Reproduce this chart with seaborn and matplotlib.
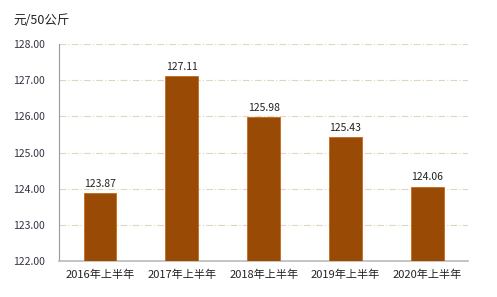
import matplotlib
matplotlib.use("Agg")
import matplotlib.pyplot as plt
import seaborn as sns
import pandas as pd

categories = ["2016年上半年", "2017年上半年", "2018年上半年", "2019年上半年", "2020年上半年"]
values = [123.87, 127.11, 125.98, 125.43, 124.06]
yticks = [122, 123, 124, 125, 126, 127, 128]

sns.set_style("white")
plt.rcParams['font.family'] = ['Noto Sans CJK SC', 'DejaVu Sans']

df = pd.DataFrame({"cat": categories, "val": values})
fig = plt.figure(figsize=(4.97, 2.97), dpi=100)
ax = fig.add_axes([0.119, 0.121, 0.823, 0.731])
sns.barplot(data=df, x="cat", y="val", color="#994a04", width=0.4, ax=ax,
            edgecolor="#c26a1a", linewidth=0.6, saturation=1, zorder=3)
ax.set_ylim(122, 128)
ax.set_yticks(yticks)
ax.set_yticklabels([f"{t:.2f}" for t in yticks], fontsize=7.5, color="#333344")
ax.tick_params(axis='x', labelsize=8, colors="#222222", length=0, pad=6)
ax.tick_params(axis='y', length=0, pad=10)
ax.set_xlabel("")
ax.set_ylabel("")
ax.grid(axis='y', color="#e0d6c0", linestyle=(0, (6, 2, 1, 2)), linewidth=0.8, zorder=0)
for s in ["top", "right"]:
    ax.spines[s].set_visible(False)
ax.spines["left"].set_color("#999999")
ax.spines["bottom"].set_color("#bbbbbb")
ax.spines["left"].set_linewidth(0.8)
ax.spines["bottom"].set_linewidth(1.2)
for i, v in enumerate(values):
    ax.text(i, v + 0.12, f"{v:.2f}", ha="center", va="bottom", fontsize=7.5, color="#222222")
fig.text(13 / 497, 1 - 20 / 297, "元/50公斤", fontsize=9, color="#222222", va="center", ha="left")
fig.savefig("out.png", dpi=100)
